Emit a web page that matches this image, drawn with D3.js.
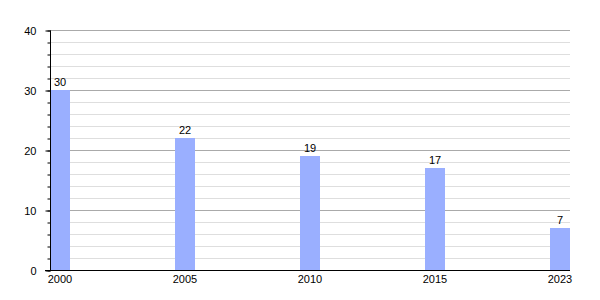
<!DOCTYPE html>
<html>
<head>
<meta charset="utf-8">
<script src="https://cdn.jsdelivr.net/npm/d3@7"></script>
<style>
  body { margin: 0; background: #fff; }
  text { font-family: "Liberation Sans", Arial, sans-serif; font-size: 11px; fill: #000; }
</style>
</head>
<body>
<div id="chart"></div>
<script>
const years = ["2000", "2005", "2010", "2015", "2023"];
const values = [30, 22, 19, 17, 7];
const majorTicks = [0, 10, 20, 30, 40];
const minorTicks = d3.range(0, 41, 2);

const width = 600;
const height = 300;
const margin = { top: 30, right: 30, bottom: 30, left: 50 };

const svg = d3.select("#chart")
  .append("svg")
  .attr("width", width)
  .attr("height", height);

const x = d3.scalePoint()
  .domain(years)
  .range([margin.left + 10, width - margin.right - 10]);

const y = d3.scaleLinear()
  .domain([0, 40])
  .range([height - margin.bottom, margin.top]);

// minor grid
svg.append("g")
  .selectAll("line")
  .data(minorTicks.filter(d => d % 10 !== 0))
  .join("line")
    .attr("x1", margin.left)
    .attr("x2", width - margin.right)
    .attr("y1", d => y(d) + 0.5)
    .attr("y2", d => y(d) + 0.5)
    .attr("stroke", "#dedede");

// major grid
svg.append("g")
  .selectAll("line")
  .data(majorTicks.filter(d => d > 0))
  .join("line")
    .attr("x1", margin.left)
    .attr("x2", width - margin.right)
    .attr("y1", d => y(d) + 0.5)
    .attr("y2", d => y(d) + 0.5)
    .attr("stroke", "#aaa");

// bars
svg.append("g")
  .attr("fill", "#9aafff")
  .selectAll("rect")
  .data(values)
  .join("rect")
    .attr("x", (d, i) => x(years[i]) - 10)
    .attr("y", d => y(d))
    .attr("width", 20)
    .attr("height", d => y(0) - y(d));

// value labels
svg.append("g")
  .attr("text-anchor", "middle")
  .selectAll("text")
  .data(values)
  .join("text")
    .attr("x", (d, i) => x(years[i]))
    .attr("y", d => y(d) - 4)
    .text(d => d);

// y axis
function yAxis(g) {
  g.attr("transform", `translate(${margin.left + 0.5},0.5)`)
    .call(d3.axisLeft(y).tickValues(minorTicks).tickSize(3).tickFormat(""))
    .call(g => g.select(".domain").remove());
  g.append("g")
    .call(d3.axisLeft(y).tickValues(majorTicks).tickSize(5).tickPadding(9))
    .call(g => g.selectAll("text").attr("font-size", 11).attr("font-family", null).attr("fill", "#000"));
  g.selectAll("line").attr("stroke", "#000");
  g.select("g .domain").attr("d", `M0,${y(40)}V${y(0)}`).attr("stroke", "#000");
}

// x axis
function xAxis(g) {
  g.attr("transform", `translate(0,${y(0) + 0.5})`);
  g.append("line")
    .attr("x1", margin.left - 5)
    .attr("x2", width - margin.right)
    .attr("stroke", "#000");
  g.selectAll("text.xl")
    .data(years)
    .join("text")
      .attr("class", "xl")
      .attr("x", d => x(d))
      .attr("y", 12)
      .attr("text-anchor", "middle")
      .text(d => d);
}

svg.append("g").call(yAxis);
svg.append("g").call(xAxis);
</script>
</body>
</html>
